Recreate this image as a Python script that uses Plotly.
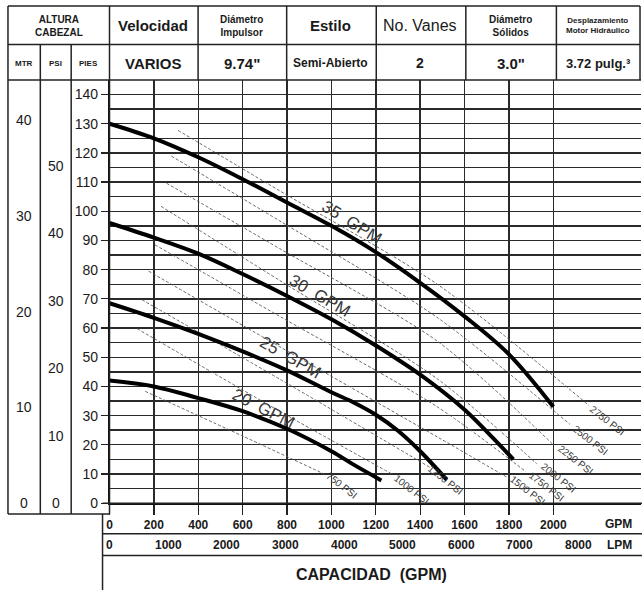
import plotly.graph_objects as go

# ---------------- data ----------------
GPM_TICKS = [0, 200, 400, 600, 800, 1000, 1200, 1400, 1600, 1800, 2000]
LPM_TICKS = [0, 1000, 2000, 3000, 4000, 5000, 6000, 7000, 8000]
FT_TICKS = [0, 10, 20, 30, 40, 50, 60, 70, 80, 90, 100, 110, 120, 130, 140]
MTR_LABELS = [0, 10, 20, 30, 40]
PSI_LABELS = [0, 10, 20, 30, 40, 50]

# pump curves (GPM, ft) per hydraulic flow
Q35 = [0, 200, 400, 600, 800, 1000, 1200, 1400, 1600, 1800, 2000]
H35 = [130, 125, 118.5, 111, 103, 95, 86, 75.5, 64, 51, 33]
Q30 = [0, 200, 400, 600, 800, 1000, 1200, 1400, 1600, 1700, 1820]
H30 = [96, 91, 85.5, 78.5, 71, 63, 54, 44, 32, 24.5, 15]
Q25 = [0, 200, 400, 600, 800, 1000, 1100, 1200, 1300, 1400, 1520]
H25 = [68.5, 63.5, 58, 52, 45.5, 38, 34.5, 30.3, 24.8, 17.8, 8]
Q20 = [0, 200, 400, 600, 800, 1000, 1100, 1225]
H20 = [42, 40, 36, 31.5, 25.5, 17.8, 13.2, 7.8]

CURVE_NAMES = ["35 GPM", "30 GPM", "25 GPM", "20 GPM"]

# hydraulic pressure lines (GPM, ft)
P2750_Q = [309, 767, 1477, 2160]
P2750_H = [127.7, 107, 75, 33.5]
P2500_Q = [279, 767, 1477, 2075]
P2500_H = [118.9, 96.7, 63.6, 27]
P2250_Q = [257, 767, 1477, 2000]
P2250_H = [109.6, 87.2, 55.5, 20]
P2000_Q = [232, 767, 1477, 1925]
P2000_H = [101.7, 76.3, 42.6, 13.5]
P1750_Q = [205, 767, 1477, 1876]
P1750_H = [88.5, 64, 33, 10.8]
P1500_Q = [176, 767, 1477, 1800]
P1500_H = [79.5, 53.6, 22.7, 8.5]
P1250_Q = [146, 767, 1450]
P1250_H = [69.7, 42.5, 12]
P1000_Q = [124, 767, 1277]
P1000_H = [59.8, 31.5, 9.8]
P750_Q = [161, 600, 967]
P750_H = [38.3, 23, 10]

PRESSURE_NAMES = ["2750 PSI", "2500 PSI", "2250 PSI", "2000 PSI", "1750 PSI",
                  "1500 PSI", "1250 PSI", "1000 PSI", "750 PSI"]

HEADER_TOP = ["ALTURA<br>CABEZAL", "Velocidad", "Diámetro<br>Impulsor", "Estilo",
              "No. Vanes", "Diámetro<br>Sólidos", "Desplazamiento<br>Motor Hidráulico"]
HEADER_BOTTOM = ["VARIOS", "9.74\"", "Semi-Abierto", "2", "3.0\"", "3.72 pulg.³"]
SUB_COLS = ["MTR", "PSI", "PIES"]

FT_PER_M = 3.281
FT_PER_PSI = 2.31
LPM_PER_GPM = 3.785

# ---------------- figure ----------------
W, H = 642, 598
FONT = "Liberation Sans, Arial, sans-serif"
INK = "#1a1a1a"


def px(x):
    return x / W


def py(y):
    return 1 - y / H


fig = go.Figure()

pressure_sets = [(P2750_Q, P2750_H), (P2500_Q, P2500_H), (P2250_Q, P2250_H),
                 (P2000_Q, P2000_H), (P1750_Q, P1750_H), (P1500_Q, P1500_H),
                 (P1250_Q, P1250_H), (P1000_Q, P1000_H), (P750_Q, P750_H)]
for (q, h), name in zip(pressure_sets, PRESSURE_NAMES):
    fig.add_trace(go.Scatter(x=q, y=h, mode="lines", name=name,
                             line=dict(color="#555555", width=0.9, dash="3px,2px",
                                       shape="spline", smoothing=0.8),
                             hoverinfo="skip", showlegend=False))

for (q, h), name in zip([(Q35, H35), (Q30, H30), (Q25, H25), (Q20, H20)], CURVE_NAMES):
    fig.add_trace(go.Scatter(x=q, y=h, mode="lines", name=name,
                             line=dict(color="#000000", width=4, shape="spline", smoothing=1.0),
                             showlegend=False))

X_MAX = 2395
fig.update_layout(
    width=W, height=H, margin=dict(l=0, r=0, t=0, b=0),
    paper_bgcolor="white", plot_bgcolor="white",
    font=dict(family=FONT, color=INK),
    showlegend=False,
    xaxis=dict(domain=[px(107), px(641)], range=[0, X_MAX],
               tickvals=GPM_TICKS, ticktext=[f"<b>{v}</b>" for v in GPM_TICKS],
               tickfont=dict(size=12, color=INK, family=FONT),
               ticks="outside", ticklen=10, tickcolor="#222", tickwidth=1.3,
               showgrid=True, gridcolor="#2a2a2a", gridwidth=1.4,
               showline=True, linecolor="#111", linewidth=1.6,
               zeroline=False, fixedrange=True),
    yaxis=dict(domain=[py(510), py(81)], range=[0, 145],
               tickvals=FT_TICKS, tickfont=dict(size=14, color=INK, family=FONT),
               ticks="outside", ticklen=7, tickcolor="#222", tickwidth=1.3,
               showgrid=True, gridcolor="#2a2a2a", gridwidth=1.4,
               minor=dict(dtick=5, showgrid=True, gridcolor="#2a2a2a", gridwidth=1.4,
                          ticks=""),
               showline=True, linecolor="#111", linewidth=1.6,
               zeroline=False, fixedrange=True),
)

# ---------------- table lines ----------------
LC = "#222"
LW = 1.5
shapes = []


def hline(y, x0, x1, w=LW):
    shapes.append(dict(type="line", xref="paper", yref="paper", x0=px(x0), x1=px(x1),
                       y0=py(y), y1=py(y), line=dict(color=LC, width=w)))


def vline(x, y0, y1, w=LW):
    shapes.append(dict(type="line", xref="paper", yref="paper", x0=px(x), x1=px(x),
                       y0=py(y0), y1=py(y1), line=dict(color=LC, width=w)))


hline(6, 5, 640)
hline(45, 5, 640)
hline(81, 5, 641)
vline(5, 6, 521)
vline(640, 6, 81)
for xv in [107, 196, 285, 375, 465, 556]:
    vline(xv, 6, 81)
vline(37.5, 45, 521)
vline(68.5, 45, 521)
vline(107, 81, 521)
hline(521, 5, 107)
vline(100, 521, 598)
hline(510, 100, 642)
hline(541, 100, 642)
hline(563, 100, 642)
fig.update_layout(shapes=shapes)

# ---------------- annotations ----------------
ann = []


def text(x, y, s, size, bold=False, xref="paper", yref="paper", xanchor="center",
         yanchor="middle", angle=0, color=INK):
    ann.append(dict(x=x, y=y, xref=xref, yref=yref, text=f"<b>{s}</b>" if bold else s,
                    showarrow=False, xanchor=xanchor, yanchor=yanchor, textangle=angle,
                    font=dict(size=size, color=color, family=FONT)))


top_x = [56, 151, 240, 329, 419, 510, 598]
top_size = [10, 15, 10, 15, 16, 10, 8]
top_bold = [True, True, True, True, False, True, True]
for s, xc, sz, b in zip(HEADER_TOP, top_x, top_size, top_bold):
    text(px(xc), py(26), s, sz, bold=b)

bot_x = [151, 240, 329, 419, 510, 598]
bot_size = [15, 15, 12, 14, 15, 13]
for s, xc, sz in zip(HEADER_BOTTOM, bot_x, bot_size):
    text(px(xc), py(64), s, sz, bold=True)

for s, xc in zip(SUB_COLS, [21, 53, 86]):
    text(px(xc), py(64), s, 8, bold=True)

for m in MTR_LABELS:
    text(px(21), m * FT_PER_M, str(m), 14, yref="y")
for p in PSI_LABELS:
    text(px(53), p * FT_PER_PSI, str(p), 14, yref="y")

# LPM scale row
for l in LPM_TICKS:
    text(l / LPM_PER_GPM, py(552), str(l), 12, bold=True, xref="x")
text(px(634), py(531), "GPM", 12, bold=True, xanchor="right")
text(px(634), py(552), "LPM", 12, bold=True, xanchor="right")
text(px(370), py(582), "CAPACIDAD&nbsp; (GPM)", 16, bold=True)

# curve labels
curve_lab_pos = [(1091, 96, 32), (945, 71, 30), (816, 50, 30), (692, 32.5, 27)]
for name, (xq, yh, ang) in zip(CURVE_NAMES, curve_lab_pos):
    text(xq, yh, name.replace(" ", "&nbsp; "), 17, xref="x", yref="y", angle=ang, color="#3a3a3a")

press_lab_pos = [(2244, 28.4), (2169, 21.6), (2098, 14.9), (2022, 8.8), (1969, 5.7),
                 (1885, 4.4), (1512, 8.1), (1361, 4.7), (1047, 6.1)]
for name, (xq, yh) in zip(PRESSURE_NAMES, press_lab_pos):
    text(xq, yh, name, 10, xref="x", yref="y", angle=38, color="#3a3a3a")

fig.update_layout(annotations=ann)

fig.write_html("out.html",
               config={"displayModeBar": False, "staticPlot": True},
               post_script="document.body.style.margin='0';document.body.style.padding='0';"
                           "document.documentElement.style.overflow='hidden';")
